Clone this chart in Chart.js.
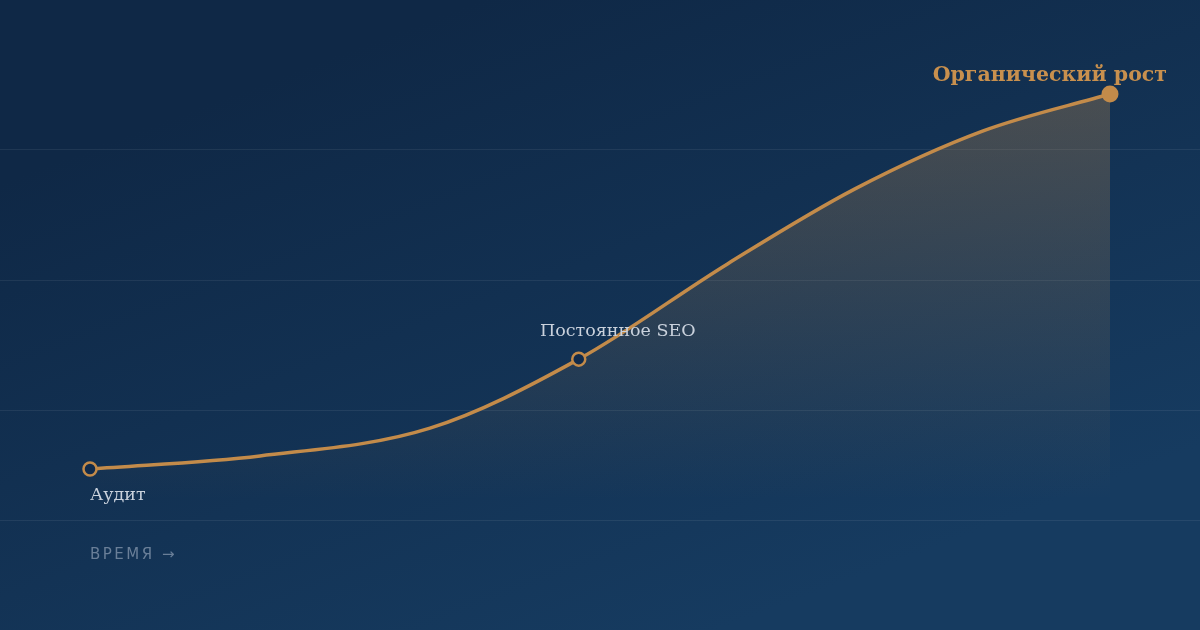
<!DOCTYPE html>
<html>
<head>
<meta charset="utf-8">
<script src="https://cdn.jsdelivr.net/npm/chart.js@4"></script>
<style>
  html, body { margin: 0; padding: 0; background: #12304f; }
  #wrap { width: 1200px; height: 630px; position: relative; }
</style>
</head>
<body>
<div id="wrap"><canvas id="growthChart"></canvas></div>
<script>
// growth curve: time (months from audit) vs organic growth (% of final level)
const months = [0, 2, 4, 5.75, 7.5, 9, 10.5, 12];
const growth = [0, 3.5, 10.9, 29.3, 54.7, 74.7, 90.1, 100];

// milestones shown on the curve (index into the arrays above)
const milestoneIndex = [0, 3, 7];
const milestoneLabels = ["Аудит", "Постоянное SEO", "Органический рост"];
const axisLabel = "ВРЕМЯ →";

// horizontal guide lines (growth values)
const gridValues = [-13.6, 15.7, 50.4, 85.1];

const GOLD = "#c38b4a";

const points = months.map((m, i) => ({ x: m, y: growth[i] }));
const radii = months.map((m, i) => {
    if (i === milestoneIndex[2]) return 8.5;
    return milestoneIndex.includes(i) ? 6.5 : 0;
});
const fills = months.map((m, i) => i === milestoneIndex[2] ? GOLD : "#112b4b");

// Background gradient behind everything
const backgroundPlugin = {
    id: "bg",
    beforeDraw(chart) {
        const { ctx, width, height } = chart;
        const g = ctx.createLinearGradient(width * 0.4, 0, width * 0.6, height);
        g.addColorStop(0, "#0f2846");
        g.addColorStop(1, "#163b60");
        ctx.save();
        ctx.fillStyle = g;
        ctx.fillRect(0, 0, width, height);
        ctx.restore();
    }
};

// Labels next to the milestone points
const labelPlugin = {
    id: "labels",
    afterDatasetsDraw(chart) {
        const { ctx } = chart;
        const meta = chart.getDatasetMeta(0);
        const p0 = meta.data[milestoneIndex[0]];
        const p1 = meta.data[milestoneIndex[1]];
        const p2 = meta.data[milestoneIndex[2]];
        ctx.save();
        ctx.textBaseline = "alphabetic";

        ctx.font = "17.5px 'DejaVu Serif', 'Liberation Serif', serif";
        ctx.fillStyle = "#c9d1dc";
        ctx.textAlign = "left";
        ctx.fillText(milestoneLabels[0], p0.x, p0.y + 31);

        ctx.textAlign = "center";
        ctx.fillText(milestoneLabels[1], p1.x + 39, p1.y - 23);

        ctx.font = "bold 20.5px 'DejaVu Serif', 'Liberation Serif', serif";
        ctx.fillStyle = "#c8904e";
        ctx.textAlign = "right";
        ctx.fillText(milestoneLabels[2], p2.x + 57, p2.y - 13);

        // axis caption
        const xs = chart.scales.x;
        const ys = chart.scales.y;
        ctx.font = "15px 'DejaVu Sans', 'Liberation Sans', sans-serif";
        ctx.fillStyle = "#6a7f98";
        ctx.textAlign = "left";
        if ("letterSpacing" in ctx) ctx.letterSpacing = "2.5px";
        ctx.fillText(axisLabel, xs.getPixelForValue(months[0]), ys.getPixelForValue(gridValues[0]) + 39);
        ctx.restore();
    }
};

const ctx = document.getElementById("growthChart").getContext("2d");

new Chart(ctx, {
    type: "line",
    data: {
        datasets: [{
            data: points,
            borderColor: GOLD,
            borderWidth: 3.5,
            cubicInterpolationMode: "monotone",
            fill: { value: -8.3 },
            backgroundColor: (c) => {
                const area = c.chart.chartArea;
                if (!area) return "rgba(195,139,74,0.2)";
                const ys = c.chart.scales.y;
                const g = c.chart.ctx.createLinearGradient(0, ys.getPixelForValue(100), 0, ys.getPixelForValue(-8.3));
                g.addColorStop(0, "rgba(200,145,80,0.30)");
                g.addColorStop(1, "rgba(200,145,80,0.0)");
                return g;
            },
            pointRadius: radii,
            pointHoverRadius: radii,
            pointBorderWidth: months.map((m, i) => i === milestoneIndex[2] ? 0 : 2.5),
            pointBorderColor: GOLD,
            pointBackgroundColor: fills,
            clip: false
        }]
    },
    options: {
        responsive: true,
        maintainAspectRatio: false,
        animation: false,
        events: [],
        layout: { padding: 0, autoPadding: false },
        plugins: { legend: { display: false }, tooltip: { enabled: false } },
        scales: {
            x: {
                type: "linear",
                display: false,
                min: -90 / 85,
                max: 1110 / 85
            },
            y: {
                type: "linear",
                min: -42.93,
                max: 125.07,
                afterBuildTicks: (axis) => { axis.ticks = gridValues.map(v => ({ value: v })); },
                afterFit: (axis) => { axis.width = 0; },
                ticks: { display: false },
                border: { display: false },
                grid: { color: "rgba(255,255,255,0.07)", lineWidth: 1, drawTicks: false }
            }
        }
    },
    plugins: [backgroundPlugin, labelPlugin]
});
</script>
</body>
</html>
